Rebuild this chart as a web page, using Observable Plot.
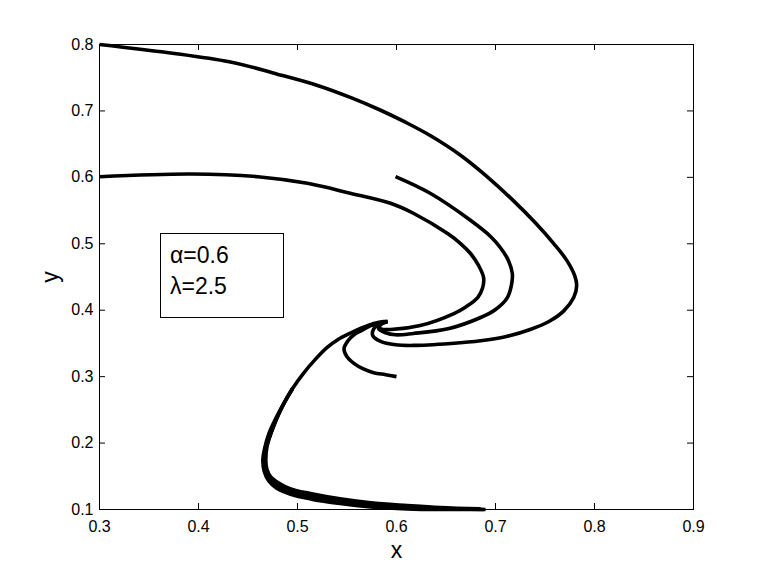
<!DOCTYPE html>
<html>
<head>
<meta charset="utf-8">
<script src="https://cdn.jsdelivr.net/npm/d3@7"></script>
<script src="https://cdn.jsdelivr.net/npm/@observablehq/plot@0.6"></script>
<style>
  html, body { margin: 0; padding: 0; background: #fff; }
  #wrap { position: relative; width: 763px; height: 574px; font-family: "Liberation Sans", Arial, Helvetica, sans-serif; }
  #legend { position: absolute; left: 160px; top: 233px; width: 124px; height: 85px; border: 1px solid #000; background: #fff; box-sizing: border-box; font-size: 23px; line-height: 31px; padding: 6px 0 0 9px; color: #000; }
</style>
</head>
<body>
<div id="wrap"><div id="chart"></div><div id="legend"><div>α=0.6</div><div>λ=2.5</div></div></div>
<script>
// Tick values
const xTicks = [0.3, 0.4, 0.5, 0.6, 0.7, 0.8, 0.9];
const yTicks = [0.1, 0.2, 0.3, 0.4, 0.5, 0.6, 0.7, 0.8];

// Trajectory A (outer, from (0.3, 0.8))
const curveAx = [0.300,0.431,0.478,0.521,0.554,0.584,0.609,0.634,0.665,0.690,0.718,0.740,0.759,0.772,0.780,0.782,0.779,0.769,0.754,0.735,0.710,0.685,0.655,0.617,0.599,0.584,0.576,0.577,0.584,0.590];
const curveAy = [0.800,0.774,0.756,0.738,0.720,0.701,0.683,0.663,0.633,0.603,0.565,0.532,0.500,0.475,0.452,0.437,0.419,0.399,0.383,0.371,0.360,0.354,0.350,0.347,0.348,0.353,0.362,0.372,0.380,0.383];

// Trajectory M (middle, from (0.6, 0.6))
const curveMx = [0.599,0.634,0.675,0.695,0.705,0.713,0.717,0.716,0.712,0.700,0.685,0.652,0.617,0.599,0.589,0.582,0.584,0.590];
const curveMy = [0.601,0.576,0.535,0.511,0.494,0.475,0.455,0.437,0.419,0.401,0.389,0.372,0.365,0.363,0.366,0.372,0.378,0.383];

// Trajectory B (inner, from (0.3, 0.6))
const curveBx = [0.300,0.392,0.460,0.510,0.551,0.594,0.617,0.652,0.665,0.675,0.683,0.688,0.687,0.682,0.670,0.658,0.624,0.594,0.584,0.582,0.587,0.591];
const curveBy = [0.601,0.605,0.601,0.591,0.577,0.561,0.546,0.515,0.500,0.485,0.467,0.449,0.434,0.419,0.405,0.395,0.377,0.371,0.372,0.377,0.381,0.383];

// Trajectory D (short, from (0.6, 0.3))
const curveDx = [0.600,0.589,0.577,0.566,0.557,0.550,0.547,0.551,0.557,0.564,0.574,0.584,0.591];
const curveDy = [0.300,0.303,0.306,0.312,0.320,0.330,0.342,0.354,0.363,0.369,0.377,0.381,0.383];

// Trajectories C (bottom bundle)
const curveC1x = [0.685,0.644,0.611,0.574,0.543,0.513,0.493,0.481,0.473,0.469,0.468,0.469,0.473,0.479,0.486,0.495,0.506,0.518,0.530,0.541,0.554,0.566,0.577,0.587,0.591];
const curveC1y = [0.101,0.103,0.106,0.110,0.116,0.124,0.131,0.140,0.149,0.161,0.174,0.193,0.214,0.237,0.259,0.282,0.305,0.326,0.344,0.356,0.366,0.374,0.380,0.383,0.383];
const curveC2x = [0.688,0.644,0.611,0.574,0.543,0.513,0.493,0.480,0.472,0.468,0.4665,0.468,0.473,0.479,0.486,0.495];
const curveC2y = [0.100,0.1015,0.1035,0.107,0.1125,0.120,0.127,0.136,0.146,0.159,0.174,0.193,0.214,0.237,0.259,0.282];
const curveC3x = [0.690,0.644,0.611,0.574,0.543,0.513,0.493,0.479,0.471,0.4665,0.465,0.467,0.471,0.478,0.486,0.495];
const curveC3y = [0.100,0.100,0.101,0.104,0.109,0.116,0.123,0.132,0.143,0.157,0.174,0.193,0.214,0.237,0.259,0.282];

const mk = (xs, ys, id) => xs.map((x, i) => ({x, y: ys[i], id}));
const curves = [
  mk(curveAx, curveAy, "A"), mk(curveMx, curveMy, "M"), mk(curveBx, curveBy, "B"),
  mk(curveDx, curveDy, "D"), mk(curveC1x, curveC1y, "C1"), mk(curveC2x, curveC2y, "C2"), mk(curveC3x, curveC3y, "C3")
];

const W = 763, H = 574, mL = 99, mR = 70, mT = 44, mB = 65;
const fw = W - mL - mR, fh = H - mT - mB, tl = 6;

const marks = [
  Plot.frame({stroke: "#000", strokeWidth: 1}),
  Plot.tickX(xTicks, {x: d => d, stroke: "#000", strokeWidth: 1, insetTop: fh - tl}),
  Plot.tickX(xTicks, {x: d => d, stroke: "#000", strokeWidth: 1, insetBottom: fh - tl}),
  Plot.tickY(yTicks, {y: d => d, stroke: "#000", strokeWidth: 1, insetRight: fw - tl}),
  Plot.tickY(yTicks, {y: d => d, stroke: "#000", strokeWidth: 1, insetLeft: fw - tl}),
  Plot.axisX(xTicks, {anchor: "bottom", tickSize: 0, tickPadding: 11, tickFormat: d => d.toFixed(1), label: "x", labelAnchor: "center", labelArrow: "none", labelOffset: 48}),
  Plot.axisY(yTicks, {anchor: "left", tickSize: 0, tickPadding: 6, tickFormat: d => d.toFixed(1), label: "y", labelAnchor: "center", labelArrow: "none", labelOffset: 58}),
  ...curves.map(c => Plot.line(c, {x: "x", y: "y", stroke: "#000", strokeWidth: 3.6, curve: "catmull-rom", strokeLinecap: "butt", strokeLinejoin: "round"}))
];

const chart = Plot.plot({
  width: W, height: H,
  marginLeft: mL, marginRight: mR, marginTop: mT, marginBottom: mB,
  style: {fontFamily: "'Liberation Sans', Arial, Helvetica, sans-serif", fontSize: "16px", color: "#000", background: "#fff", overflow: "visible"},
  x: {domain: [0.3, 0.9]},
  y: {domain: [0.1, 0.8]},
  marks
});
chart.querySelectorAll("text").forEach(t => {
  const s = t.textContent.trim();
  if (s === "x" || s === "y") t.style.fontSize = "23px";
  else t.style.fontSize = "16px";
});
document.getElementById("chart").appendChild(chart);
</script>
</body>
</html>
